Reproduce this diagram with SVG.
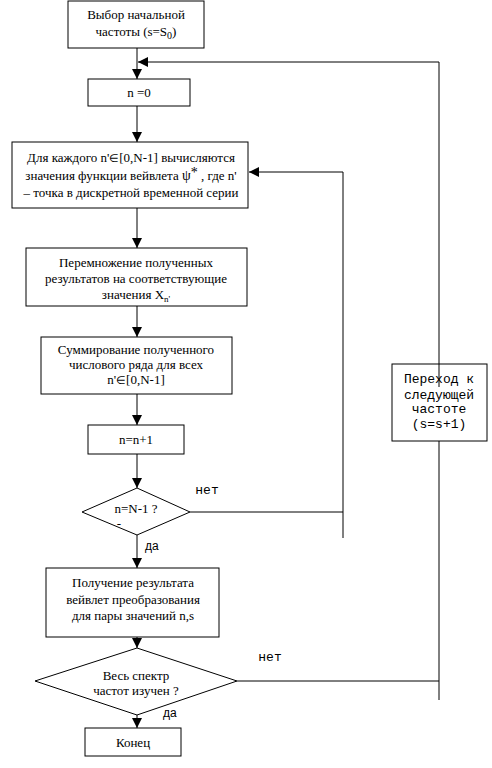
<svg xmlns="http://www.w3.org/2000/svg" width="492" height="768" viewBox="0 0 492 768">
<style>
.box{fill:#fff;stroke:#000;stroke-width:1}
.t{font-family:"Liberation Serif","Times New Roman",serif;font-size:13px;fill:#000;text-anchor:middle}
.m{font-family:"Liberation Mono","Courier New",monospace;font-size:13px;fill:#000;text-anchor:middle}
.s{font-family:"Liberation Sans",Arial,sans-serif;font-size:12px;fill:#000}
.c{fill:none;stroke:#000;stroke-width:1}
.el{font-size:11px}
</style>
<defs>
<marker id="ah" markerUnits="userSpaceOnUse" markerWidth="10" markerHeight="10" viewBox="0 0 10 10" refX="10" refY="5" orient="auto">
<path d="M0,0 L10,5 L0,10 z" fill="#000"/>
</marker>
</defs>
<g id="connectors">
<line class="c" x1="137" y1="48" x2="137" y2="79" marker-end="url(#ah)"/>
<polyline class="c" points="439,700 439,62 138,62" marker-end="url(#ah)"/>
<line class="c" x1="137" y1="106" x2="137" y2="142" marker-end="url(#ah)"/>
<line class="c" x1="137" y1="208" x2="137" y2="248" marker-end="url(#ah)"/>
<line class="c" x1="137" y1="306" x2="137" y2="337" marker-end="url(#ah)"/>
<line class="c" x1="137" y1="394" x2="137" y2="425" marker-end="url(#ah)"/>
<line class="c" x1="137" y1="454" x2="137" y2="488" marker-end="url(#ah)"/>
<polyline class="c" points="190,512 343,512"/>
<polyline class="c" points="343,538 343,172 249,172" marker-end="url(#ah)"/>
<line class="c" x1="137" y1="535" x2="137" y2="568" marker-end="url(#ah)"/>
<line class="c" x1="137" y1="637" x2="137" y2="648" marker-end="url(#ah)"/>
<line class="c" x1="237" y1="681" x2="439" y2="681"/>
<line class="c" x1="137" y1="715" x2="137" y2="728" marker-end="url(#ah)"/>
</g>
<g id="start">
<rect class="box" x="68" y="1" width="136" height="47"/>
<text class="t" x="136" y="19">Выбор начальной</text>
<text class="t" x="136" y="36">частоты (s=S<tspan font-size="10" dy="3">0</tspan><tspan dy="-3">)</tspan></text>
</g>
<g id="n0">
<rect class="box" x="88" y="79" width="102" height="27"/>
<text class="t" x="139" y="97">n =0</text>
</g>
<g id="wavelet">
<rect class="box" x="12" y="142" width="236" height="66"/>
<text class="t" x="131" y="162">Для каждого n'<tspan class="el">∈</tspan>[0,N-1] вычисляются</text>
<text class="t" x="131" y="180">значения функции вейвлета <tspan font-size="14">ψ</tspan><tspan font-size="14" dy="-3">*</tspan><tspan dy="3"> , где n'</tspan></text>
<text class="t" x="131" y="197">– точка в дискретной временной серии</text>
</g>
<g id="multiply">
<rect class="box" x="26" y="248" width="221" height="58"/>
<text class="t" x="136" y="267">Перемножение полученных</text>
<text class="t" x="136" y="283">результатов на соответствующие</text>
<text class="t" x="136" y="299">значения X<tspan font-size="9" dy="3">n'</tspan></text>
</g>
<g id="sum">
<rect class="box" x="41" y="337" width="191" height="57"/>
<text class="t" x="136" y="354">Суммирование полученного</text>
<text class="t" x="136" y="369">числового ряда для всех</text>
<text class="t" x="136" y="384">n'<tspan class="el">∈</tspan>[0,N-1]</text>
</g>
<g id="inc">
<rect class="box" x="88" y="425" width="96" height="29"/>
<text class="t" x="136" y="444">n=n+1</text>
</g>
<g id="check1">
<polygon class="box" points="137,488 190,512 137,535 82,512"/>
<text class="t" x="136" y="513">n=N-1 ?</text>
<text class="t" x="119" y="528" font-size="7">-</text>
<text class="m" x="207" y="494">нет</text>
<text class="s" x="145" y="550">да</text>
</g>
<g id="result">
<rect class="box" x="46" y="568" width="173" height="69"/>
<text class="t" x="133" y="587">Получение результата</text>
<text class="t" x="133" y="604">вейвлет преобразования</text>
<text class="t" x="133" y="620">для пары значений n,s</text>
</g>
<g id="check2">
<polygon class="box" points="137,648 237,681 137,715 35,681"/>
<text class="t" x="136" y="680">Весь спектр</text>
<text class="t" x="136" y="695">частот изучен ?</text>
<text class="m" x="270" y="661">нет</text>
<text class="s" x="163" y="717">да</text>
</g>
<g id="next">
<rect class="box" x="392" y="364" width="95" height="77"/>
<line class="c" x1="439" y1="364" x2="439" y2="387"/>
<text class="m" x="439" y="383" font-size="12">Переход к</text>
<text class="m" x="439" y="399" font-size="12">следующей</text>
<text class="m" x="439" y="413" font-size="12">частоте</text>
<text class="m" x="439" y="428" font-size="12">(s=s+1)</text>
</g>
<g id="end">
<rect class="box" x="85" y="728" width="96" height="28"/>
<text class="t" x="133" y="747">Конец</text>
</g>
</svg>
